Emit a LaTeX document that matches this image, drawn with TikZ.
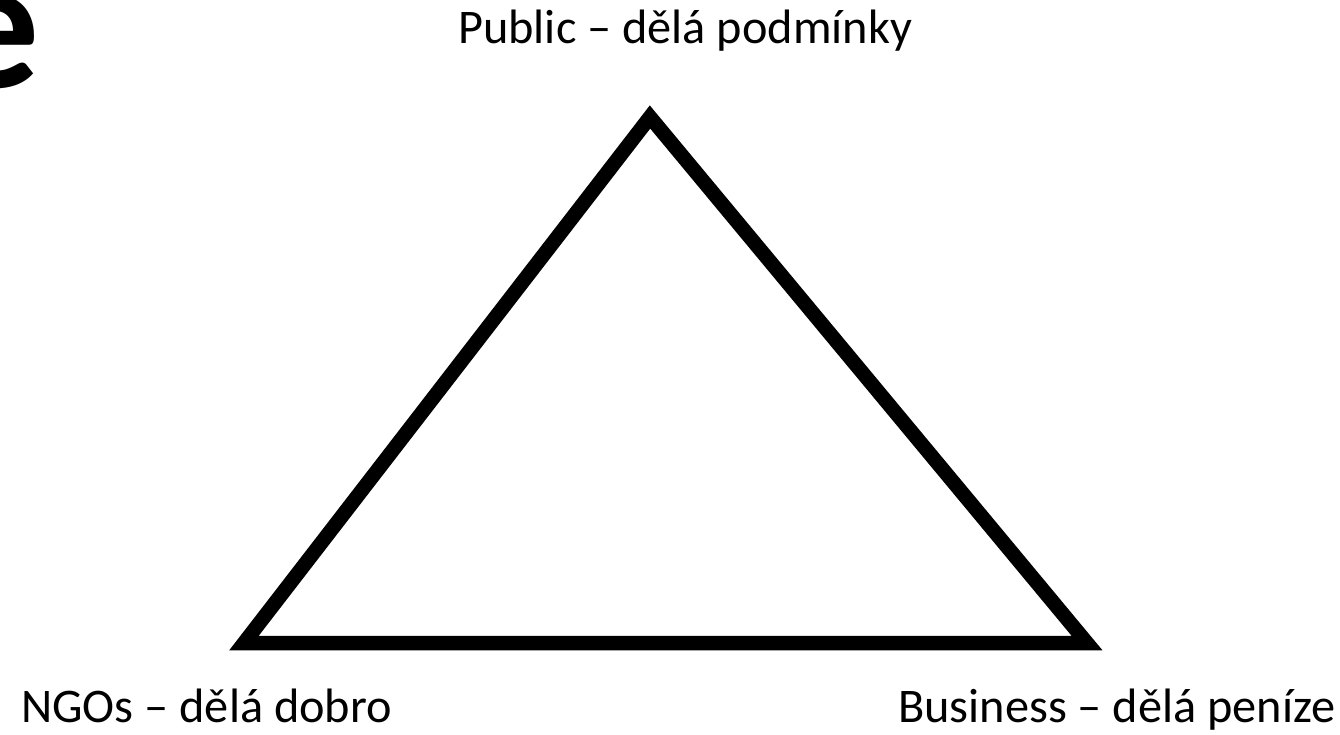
\documentclass[tikz,border=0pt]{standalone}
\usepackage{fontspec}
\setmainfont{Carlito}
\usetikzlibrary{positioning}

\begin{document}
\begin{tikzpicture}[x=1pt, y=-1pt, line join=miter,
    cornertxt/.style={anchor=base west, inner sep=0pt, font=\fontsize{48.3}{58}\selectfont},
    side/.style={line width=14.5pt}]

  % ----------------------
  % Cornice (dimensioni della slide)
  % ----------------------
  \useasboundingbox (0,0) rectangle (1340,734);
  \clip (0,0) rectangle (1340,734);

  % ----------------------
  % Resto del titolo (tagliato)
  % ----------------------
  \node[anchor=base east, inner sep=0pt, font=\fontsize{188}{200}\selectfont\bfseries] (title) at (40,87) {e};

  % ----------------------
  % Vertici del triangolo
  % ----------------------
  \coordinate (Pub) at (650,117);   % vertice alto
  \coordinate (Ngo) at (244,643);   % vertice in basso a sinistra
  \coordinate (Bus) at (1087,643);  % vertice in basso a destra

  % ----------------------
  % Lati
  % ----------------------
  \draw[side] (Ngo) -- (Pub) -- (Bus) -- cycle;

  % ----------------------
  % Etichette dei settori
  % ----------------------
  \node[cornertxt] (pubtxt) at (458,43) {Public – dělá podmínky};
  \node[cornertxt] (ngotxt) at (21,722) {NGOs – dělá dobro};
  \node[cornertxt] (bustxt) at (898,722) {Business – dělá peníze};

\end{tikzpicture}
\end{document}
